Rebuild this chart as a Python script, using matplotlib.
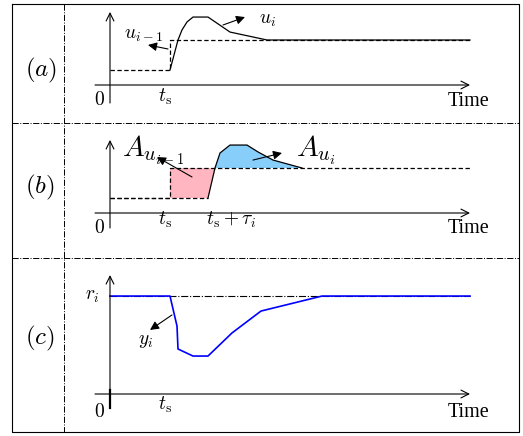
import numpy as np
import matplotlib.pyplot as plt

plt.rcParams['mathtext.fontset'] = 'cm'
plt.rcParams['font.family'] = ['Liberation Serif', 'DejaVu Serif']

W, H = 523, 436

# time in schematic units, levels in schematic units
t_s = 6.0
t_end = 36.0
u_low, u_high = 1.0, 3.0

# panel (a): new control signal u_i and previous u_{i-1}
ua_t = [0, 6, 6.8, 7.2, 7.7, 8.3, 9.8, 12, 15.7, 36]
ua_v = [1, 1, 3, 3.67, 4.2, 4.53, 4.53, 3.53, 3, 3]
uprev_t = [0, 6, 6, 36]
uprev_v = [1, 1, 3, 3]

# panel (b): delayed u_i
ub_t = [0, 9.8, 10.5, 11, 12, 13.7, 14.8, 16.3, 19.2, 36]
ub_v = [1, 1, 3, 4, 4.53, 4.53, 4.07, 3.53, 3.0, 3]

# panel (c): output y_i and reference r_i
r_i = 6.53
y_t = [0, 6, 6.7, 6.8, 8.3, 9.8, 12.2, 15.1, 21.2, 36]
y_v = [r_i, r_i, 4.53, 3.0, 2.53, 2.53, 4.07, 5.53, r_i, r_i]

fig = plt.figure(figsize=(W / 100, H / 100), dpi=100)

# frame and separators (pixel coords)
bg = fig.add_axes([0, 0, 1, 1])
bg.set_xlim(0, W)
bg.set_ylim(H, 0)
bg.axis('off')
bg.plot([12, 519, 519, 12, 12], [4, 4, 432, 432, 4], color='black', lw=0.8)
bg.plot([64, 64], [4, 432], color='black', lw=0.7, ls='-.')
bg.plot([12, 519], [123, 123], color='black', lw=0.7, ls='-.')
bg.plot([12, 519], [258, 258], color='black', lw=0.7, ls='-.')


def panel(top, bot, axis_px):
    ax = fig.add_axes([0, (H - bot) / H, 1, (bot - top) / H])
    ax.set_xlim(-11, (W - 110) / 10)
    ax.set_ylim((axis_px - bot) / 15, (axis_px - top) / 15)
    ax.axis('off')
    return ax


def axes_arrows(ax, ybot, ytop):
    ax.annotate('', xy=(36, 0), xytext=(-1.5, 0),
                arrowprops=dict(arrowstyle='->', lw=0.8, color='black',
                                mutation_scale=14, shrinkA=0, shrinkB=0))
    ax.annotate('', xy=(0, ytop), xytext=(0, ybot),
                arrowprops=dict(arrowstyle='->', lw=0.8, color='black',
                                mutation_scale=14, shrinkA=0, shrinkB=0))


def pointer(ax, start, end):
    ax.annotate('', xy=end, xytext=start,
                arrowprops=dict(arrowstyle='-|>', lw=0.8, color='black',
                                mutation_scale=13, shrinkA=0, shrinkB=0))


fs_lab = 14.5
fs_txt = 14
fs_pan = 18
dash = (0, (3.5, 2))

# ---- (a)
ax = panel(4, 123, 85)
axes_arrows(ax, -1.2, 4.87)
ax.plot(uprev_t, uprev_v, color='black', lw=0.9, ls=dash)
ax.plot(ua_t[1:], ua_v[1:], color='black', lw=0.9)
ax.text(-6.9, 1.0, '$(a)$', fontsize=fs_pan, ha='center', va='center')
ax.text(-1.1, -1.0, '$0$', fontsize=fs_txt, ha='center', va='center')
ax.text(5.5, -0.8, r'$t_{\mathrm{s}}$', fontsize=fs_txt, ha='center', va='center')
ax.text(35.9, -1.13, 'Time', fontsize=fs_lab, ha='center', va='center')
ax.text(15.8, 4.33, '$u_i$', fontsize=fs_txt, ha='center', va='center')
ax.text(3.3, 3.33, '$u_{i-1}$', fontsize=fs_txt, ha='center', va='center')
pointer(ax, (11.3, 4.0), (13.5, 4.53))
pointer(ax, (5.8, 2.4), (3.8, 2.67))

# ---- (b)
ax = panel(123, 258, 213)
axes_arrows(ax, -1.0, 4.87)
i_up = ub_t.index(10.5)
i_set = ub_t.index(19.2)
pink_t = [t_s, t_s, ub_t[i_up], ub_t[i_up - 1]]
pink_v = [u_low, u_high, ub_v[i_up], ub_v[i_up - 1]]
ax.fill(pink_t, pink_v, color='#ffb6c1', lw=0)
ax.fill(ub_t[i_up:i_set + 1], ub_v[i_up:i_set + 1], color='#87cefa', lw=0)
ax.plot(uprev_t, uprev_v, color='black', lw=0.9, ls=dash)
ax.plot(ub_t[:2], ub_v[:2], color='black', lw=0.9, ls=dash)
ax.plot(ub_t[1:i_set + 1], ub_v[1:i_set + 1], color='black', lw=0.9)
ax.text(-7, 1.67, '$(b)$', fontsize=fs_pan, ha='center', va='center')
ax.text(-1.1, -1.0, '$0$', fontsize=fs_txt, ha='center', va='center')
ax.text(5.5, -0.47, r'$t_{\mathrm{s}}$', fontsize=fs_txt, ha='center', va='center')
ax.text(12.1, -0.47, r'$t_{\mathrm{s}}+\tau_i$', fontsize=fs_txt, ha='center', va='center')
ax.text(35.9, -1.0, 'Time', fontsize=fs_lab, ha='center', va='center')
ax.text(4.3, 4.2, '$A_{u_{i-1}}$', fontsize=21, ha='center', va='center')
ax.text(20.6, 4.2, '$A_{u_i}$', fontsize=21, ha='center', va='center')
pointer(ax, (8.2, 2.4), (4.7, 3.73))
pointer(ax, (14.3, 3.53), (17.2, 4.0))

# ---- (c)
ax = panel(258, 432, 394)
axes_arrows(ax, -0.93, 7.93)
ax.plot([0, 0], [-0.93, 0.27], color='black', lw=1.6)
ax.plot([0, t_end], [r_i, r_i], color='black', lw=0.8, ls='-.')
ax.plot(y_t, y_v, color='blue', lw=1.2)
ax.text(-7, 3.67, '$(c)$', fontsize=fs_pan, ha='center', va='center')
ax.text(-1.8, 6.47, '$r_i$', fontsize=fs_txt, ha='center', va='center')
ax.text(3.6, 3.47, '$y_i$', fontsize=fs_txt, ha='center', va='center')
ax.text(-1.1, -1.2, '$0$', fontsize=fs_txt, ha='center', va='center')
ax.text(5.5, -0.73, r'$t_{\mathrm{s}}$', fontsize=fs_txt, ha='center', va='center')
ax.text(35.9, -1.2, 'Time', fontsize=fs_lab, ha='center', va='center')
pointer(ax, (6.2, 5.27), (4.0, 4.27))

fig.savefig('out.png', dpi=100)
